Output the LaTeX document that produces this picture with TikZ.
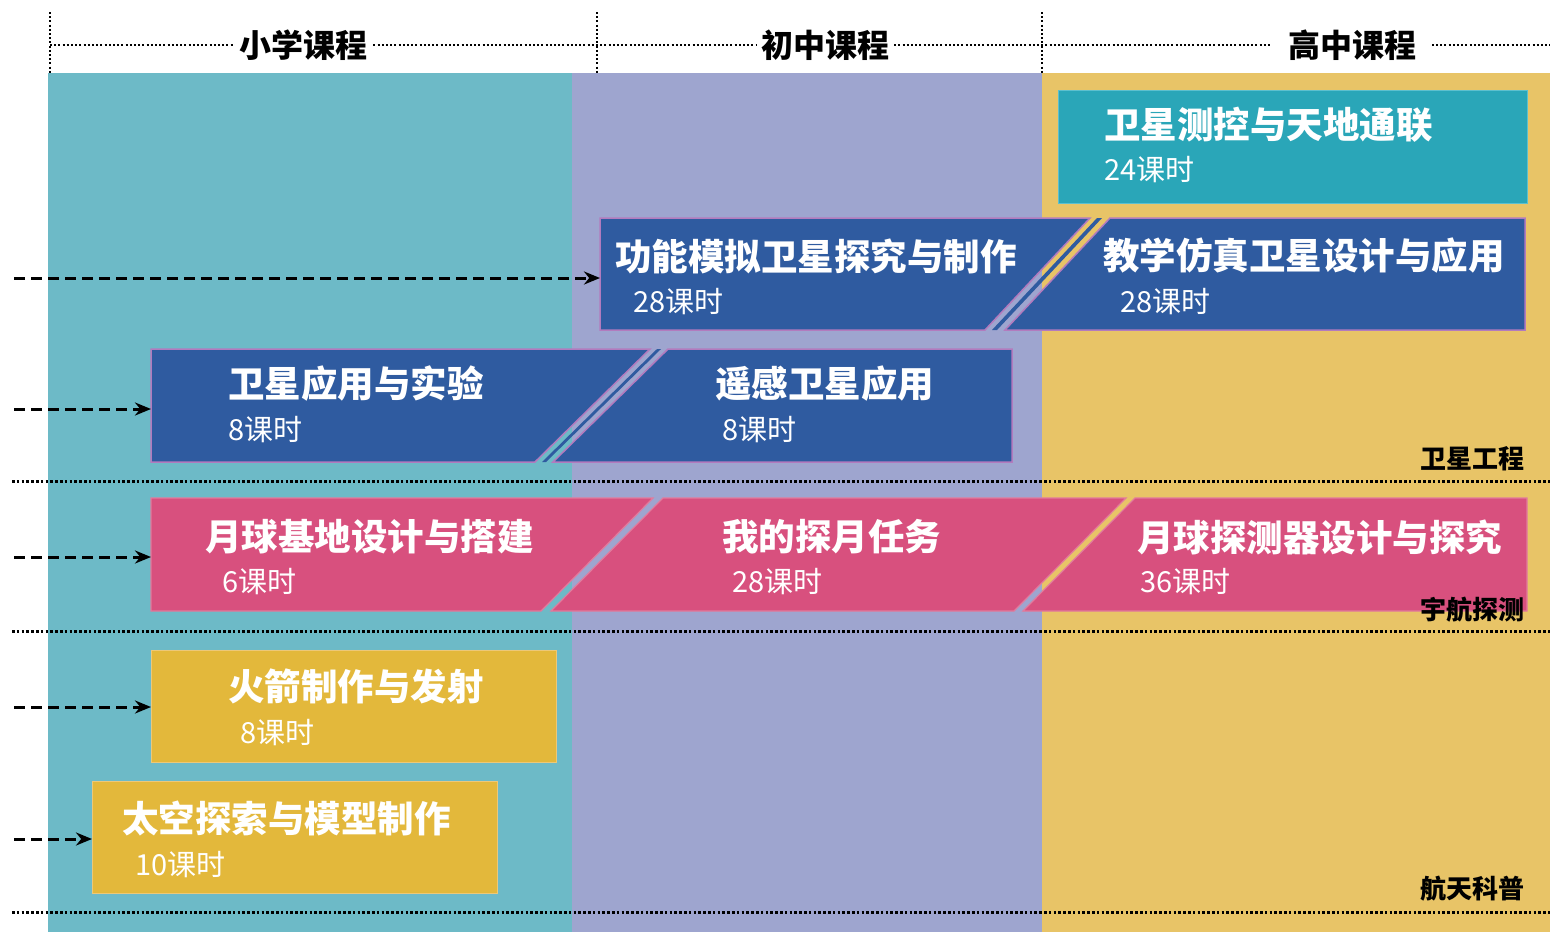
\documentclass[tikz,border=0pt]{standalone}
\usepackage{fontspec}
\setmainfont{Noto Sans CJK SC}
\usetikzlibrary{arrows.meta}
\definecolor{colteal}{HTML}{6DBAC7}
\definecolor{collav}{HTML}{9EA5CF}
\definecolor{colyel}{HTML}{E8C467}
\definecolor{boxteal}{HTML}{2AA6B8}
\definecolor{boxblue}{HTML}{2F5BA0}
\definecolor{boxpink}{HTML}{D8507E}
\definecolor{boxyel}{HTML}{E3B83B}
\definecolor{bdblue}{HTML}{B27BBE}
\definecolor{bdpink}{HTML}{E27A9C}
\definecolor{bdyel}{HTML}{EDC878}
\definecolor{bdteal}{HTML}{5CC0CF}
\tikzset{
  ttl/.style={anchor=west, inner sep=0pt, text=white, font=\fontsize{36.5}{36}\selectfont\bfseries},
  hrs/.style={anchor=west, inner sep=0pt, text=white, font=\fontsize{29}{29}\selectfont},
  hdr/.style={fill=white, inner sep=4pt, text=black, font=\fontsize{32}{32}\selectfont\bfseries},
  cat/.style={anchor=east, inner sep=0pt, text=black, font=\fontsize{26}{26}\selectfont\bfseries},
  area/.style={inner sep=0pt, draw=none, anchor=north west},
  sep/.style={line width=3pt, dash pattern=on 2.6pt off 2.2pt},
  hline/.style={line width=2pt, dash pattern=on 2pt off 2.2pt},
  feed/.style={line width=3pt, dash pattern=on 11pt off 6pt, -{Stealth[length=16pt,width=13pt]}},
  blueshape/.style={fill=boxblue, draw=bdblue, line width=1.5pt},
  pinkshape/.style={fill=boxpink, draw=bdpink, line width=1.2pt},
}
\begin{document}
\begin{tikzpicture}[x=1pt,y=-1pt]
\useasboundingbox (0,0) rectangle (1550,932);
\fill[white] (0,0) rectangle (1550,932);
% columns
\fill[colteal] (48,73) rectangle (572,932);
\fill[collav] (572,73) rectangle (1042,932);
\fill[colyel] (1042,73) rectangle (1550,932);
% header
\draw[hline] (50,12) -- (50,73);
\draw[hline] (597,12) -- (597,73);
\draw[hline] (1042,12) -- (1042,73);
\draw[hline] (50,45) -- (1550,45);
\node[hdr] (h1) at (303,45) {小学课程};
\node[hdr] (h2) at (825,45) {初中课程};
\node[hdr, inner xsep=16pt] (h3) at (1352,45) {高中课程};
% separators
\draw[sep] (12,481) -- (1550,481);
\draw[sep] (12,631) -- (1550,631);
\draw[sep] (12,912) -- (1550,912);
% teal box
\node[area, fill=boxteal, draw=bdteal, line width=1.2pt, minimum width=469pt, minimum height=113pt] (t1) at (1058,90) {};
\node[ttl] (t1a) at (1104,125) {卫星测控与天地通联};
\node[hrs] (t1b) at (1104,170) {24课时};
% row 1 blue
\node[area, minimum width=925pt, minimum height=112pt] (r1) at (600,218) {};
\path[blueshape] (600,218) -- (1090,218) -- (985,330) -- (600,330) -- cycle;
\fill[boxblue] (1097,218) -- (1102,218) -- (997,330) -- (992,330) -- cycle;
\path[blueshape] (1110,218) -- (1525,218) -- (1525,330) -- (1005,330) -- cycle;
\node[ttl] (r1a) at (615,256) {功能模拟卫星探究与制作};
\node[hrs] (r1b) at (633,302) {28课时};
\node[ttl] (r1c) at (1103,256) {教学仿真卫星设计与应用};
\node[hrs] (r1d) at (1120,302) {28课时};
% row 2 blue
\node[area, minimum width=861pt, minimum height=113pt] (r2) at (151,349) {};
\path[blueshape] (151,349) -- (650,349) -- (535,462) -- (151,462) -- cycle;
\fill[boxblue] (657,349) -- (661,349) -- (546,462) -- (542,462) -- cycle;
\path[blueshape] (668,349) -- (1012,349) -- (1012,462) -- (553,462) -- cycle;
\node[ttl] (r2a) at (228,384) {卫星应用与实验};
\node[hrs] (r2b) at (228,430) {8课时};
\node[ttl] (r2c) at (715,384) {遥感卫星应用};
\node[hrs] (r2d) at (722,430) {8课时};
% row 3 pink
\node[area, minimum width=1376pt, minimum height=113pt] (r3) at (151,498) {};
\path[pinkshape] (151,498) -- (653,498) -- (541,611) -- (151,611) -- cycle;
\path[pinkshape] (663,498) -- (1126,498) -- (1014,611) -- (551,611) -- cycle;
\path[pinkshape] (1135,498) -- (1527,498) -- (1527,611) -- (1023,611) -- cycle;
\node[ttl] (r3a) at (205,537) {月球基地设计与搭建};
\node[hrs] (r3b) at (222,582) {6课时};
\node[ttl] (r3c) at (722,537) {我的探月任务};
\node[hrs] (r3d) at (732,582) {28课时};
\node[ttl] (r3e) at (1137,537) {月球探测器设计与探究};
\node[hrs] (r3f) at (1140,582) {36课时};
% yellow boxes
\node[area, fill=boxyel, draw=bdyel, line width=1.2pt, minimum width=405pt, minimum height=112pt] (y1) at (151,650) {};
\node[ttl] (y1a) at (228,686) {火箭制作与发射};
\node[hrs] (y1b) at (240,733) {8课时};
\node[area, fill=boxyel, draw=bdyel, line width=1.2pt, minimum width=405pt, minimum height=112pt] (y2) at (92,781) {};
\node[ttl] (y2a) at (122,818) {太空探索与模型制作};
\node[hrs] (y2b) at (135,865) {10课时};
% category labels
\node[cat] (c1) at (1525,459) {卫星工程};
\node[cat] (c2) at (1525,610) {宇航探测};
\node[cat] (c3) at (1525,889) {航天科普};
% arrows
\coordinate (a1) at (14,278);
\coordinate (a2) at (14,409);
\coordinate (a3) at (14,557);
\coordinate (a4) at (14,707);
\coordinate (a5) at (14,839);
\draw[feed] (a1) -- (a1 -| r1.west);
\draw[feed] (a2) -- (a2 -| r2.west);
\draw[feed] (a3) -- (a3 -| r3.west);
\draw[feed] (a4) -- (a4 -| y1.west);
\draw[feed] (a5) -- (a5 -| y2.west);
\end{tikzpicture}
\end{document}
